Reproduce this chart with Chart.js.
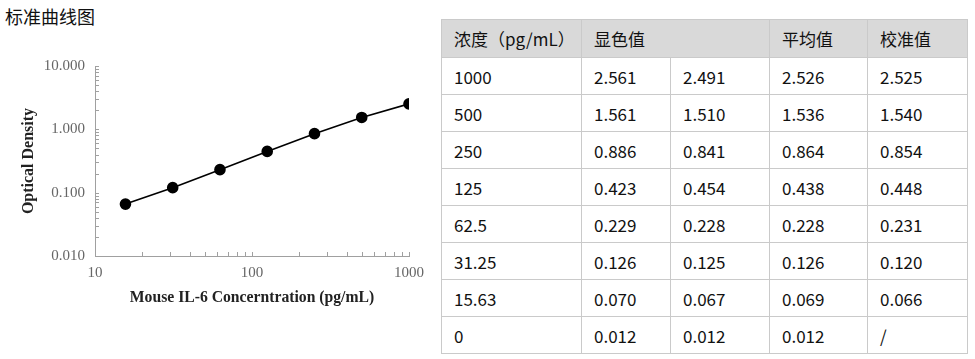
<!DOCTYPE html>
<html>
<head>
<meta charset="utf-8">
<script src="https://cdn.jsdelivr.net/npm/chart.js@4.4.1/dist/chart.umd.min.js"></script>
<style>
  body { margin: 0; background: #fff; width: 975px; height: 359px; overflow: hidden; position: relative; }
  #title { position: absolute; left: 5px; top: 3px; font: 18px "Noto Sans CJK SC", sans-serif; color: #111; }
  #chartBox { position: absolute; left: 0; top: 0; width: 440px; height: 359px; }
  table { position: absolute; left: 441px; top: 19px; border-collapse: collapse; table-layout: fixed;
          font: 17px "Noto Sans CJK SC", sans-serif; color: #111; }
  td, th { border: 1px solid #cacaca; padding: 0 0 0 12px; text-align: left; font-weight: normal; box-sizing: border-box; }
  th { background: #d9d9d9; height: 38px; }
  td { height: 37px; }
</style>
</head>
<body>
<div id="title">标准曲线图</div>
<div id="chartBox"><canvas id="myChart"></canvas></div>
<table id="tbl">
  <colgroup>
    <col style="width:140px"><col style="width:89px"><col style="width:99px"><col style="width:98px"><col style="width:100px">
  </colgroup>
</table>
<script>
// standard curve data (pg/mL and OD)
const concLabels = ['1000', '500', '250', '125', '62.5', '31.25', '15.63', '0'];
const concValues = [1000, 500, 250, 125, 62.5, 31.25, 15.63];
const od1 = ['2.561', '1.561', '0.886', '0.423', '0.229', '0.126', '0.070', '0.012'];
const od2 = ['2.491', '1.510', '0.841', '0.454', '0.228', '0.125', '0.067', '0.012'];
const odMean = ['2.526', '1.536', '0.864', '0.438', '0.228', '0.126', '0.069', '0.012'];
const odCal = ['2.525', '1.540', '0.854', '0.448', '0.231', '0.120', '0.066', '/'];
const headers = ['浓度（pg/mL）', '显色值', '平均值', '校准值'];

const xTicks = [10, 100, 1000];
const xTickLabels = ['10', '100', '1000'];
const yTicks = [0.01, 0.1, 1, 10];
const yTickLabels = ['0.010', '0.100', '1.000', '10.000'];

// table
const tbl = document.getElementById('tbl');
let html = '<tr><th>' + headers[0] + '</th><th colspan="2">' + headers[1] + '</th><th>' + headers[2] + '</th><th>' + headers[3] + '</th></tr>';
for (let i = 0; i < concLabels.length; i++) {
  html += '<tr><td>' + concLabels[i] + '</td><td>' + od1[i] + '</td><td>' + od2[i] + '</td><td>' + odMean[i] + '</td><td>' + odCal[i] + '</td></tr>';
}
tbl.insertAdjacentHTML('beforeend', html);

// points for the curve, calibrated values
const points = concValues.map((c, i) => ({ x: c, y: parseFloat(odCal[i]) }));

const axisGray = '#a0a0a0';
const serif = '"Liberation Serif", "Times New Roman", serif';

// small inward ticks on both log axes
const logTicks = {
  id: 'logTicks',
  beforeDatasetsDraw(chart) {
    const ctx = chart.ctx;
    const xs = chart.scales.x, ys = chart.scales.y;
    const area = chart.chartArea;
    ctx.save();
    ctx.strokeStyle = axisGray;
    ctx.lineWidth = 1;
    ctx.beginPath();
    for (let d = 10; d < 1000; d *= 10) {
      for (let m = 1; m <= 10; m++) {
        const px = Math.round(xs.getPixelForValue(d * m)) + 0.5;
        ctx.moveTo(px, area.bottom);
        ctx.lineTo(px, area.bottom - 4);
      }
    }
    for (let d = 0.01; d < 9; d *= 10) {
      for (let m = 1; m <= 10; m++) {
        const py = Math.round(ys.getPixelForValue(d * m)) + 0.5;
        ctx.moveTo(area.left, py);
        ctx.lineTo(area.left + 4, py);
      }
    }
    ctx.stroke();
    ctx.restore();
  }
};

new Chart(document.getElementById('myChart'), {
  type: 'scatter',
  data: {
    datasets: [{
      data: points,
      showLine: true,
      borderColor: '#000',
      backgroundColor: '#000',
      borderWidth: 1.6,
      pointRadius: 5,
      pointHoverRadius: 5
    }]
  },
  options: {
    responsive: true,
    maintainAspectRatio: false,
    animation: false,
    layout: { padding: { top: 66, right: 31, left: 0, bottom: 0 } },
    plugins: { legend: { display: false }, tooltip: { enabled: false } },
    scales: {
      x: {
        type: 'logarithmic',
        min: 10, max: 1000,
        afterFit(scale) { scale.height = 103; },
        afterBuildTicks(scale) { scale.ticks = xTicks.map(v => ({ value: v })); },
        grid: { display: false, drawTicks: false },
        border: { color: axisGray, width: 1 },
        ticks: {
          autoSkip: false, maxRotation: 0, padding: 8,
          color: '#666', font: { family: serif, size: 15 },
          callback: (v) => xTickLabels[xTicks.indexOf(v)]
        },
        title: {
          display: true, text: 'Mouse IL-6 Concerntration (pg/mL)',
          color: '#222', font: { family: serif, size: 15.7, weight: 'bold' },
          padding: { bottom: 52 }
        }
      },
      y: {
        type: 'logarithmic',
        min: 0.01, max: 10,
        afterFit(scale) { scale.width = 95; },
        afterBuildTicks(scale) { scale.ticks = yTicks.map(v => ({ value: v })); },
        grid: { display: false, drawTicks: false },
        border: { color: axisGray, width: 1 },
        ticks: {
          autoSkip: false, padding: 10,
          color: '#666', font: { family: serif, size: 15 },
          callback: (v) => yTickLabels[yTicks.indexOf(v)]
        },
        title: {
          display: true, text: 'Optical Density',
          color: '#222', font: { family: serif, size: 16, weight: 'bold' },
          padding: { top: 19 }
        }
      }
    }
  },
  plugins: [logTicks]
});
</script>
</body>
</html>
